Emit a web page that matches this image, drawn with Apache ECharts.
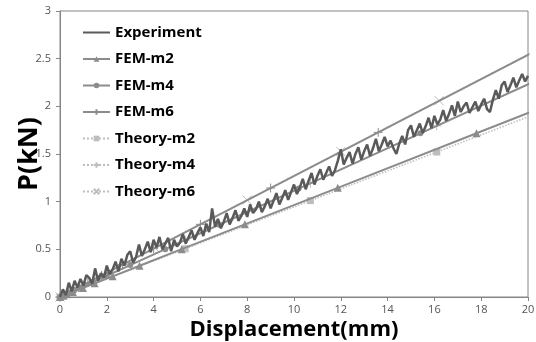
<!DOCTYPE html>
<html>
<head>
<meta charset="utf-8">
<script src="https://cdn.jsdelivr.net/npm/echarts@6/dist/echarts.min.js"></script>
<style>
  html, body { margin: 0; padding: 0; background: #fff; }
  #chart { width: 536px; height: 342px; }
</style>
</head>
<body>
<div id="chart"></div>
<script>
// Experiment: load-displacement record
const expDisp = [
  0, 0.125, 0.25, 0.375, 0.5, 0.625, 0.75, 0.875,
  1, 1.125, 1.25, 1.375, 1.5, 1.625, 1.75, 1.875,
  2, 2.125, 2.25, 2.375, 2.5, 2.625, 2.75, 2.875,
  3, 3.125, 3.25, 3.375, 3.5, 3.625, 3.75, 3.875,
  4, 4.125, 4.25, 4.375, 4.5, 4.625, 4.75, 4.875,
  5, 5.125, 5.25, 5.375, 5.5, 5.625, 5.75, 5.875,
  6, 6.125, 6.25, 6.375, 6.5, 6.625, 6.75, 6.875,
  7, 7.125, 7.25, 7.375, 7.5, 7.625, 7.75, 7.875,
  8, 8.125, 8.25, 8.375, 8.5, 8.625, 8.75, 8.875,
  9, 9.125, 9.25, 9.375, 9.5, 9.625, 9.75, 9.875,
  10, 10.125, 10.25, 10.375, 10.5, 10.625, 10.75, 10.875,
  11, 11.125, 11.25, 11.375, 11.5, 11.625, 11.75, 11.875,
  12, 12.125, 12.25, 12.375, 12.5, 12.625, 12.75, 12.875,
  13, 13.125, 13.25, 13.375, 13.5, 13.625, 13.75, 13.875,
  14, 14.125, 14.25, 14.375, 14.5, 14.625, 14.75, 14.875,
  15, 15.125, 15.25, 15.375, 15.5, 15.625, 15.75, 15.875,
  16, 16.125, 16.25, 16.375, 16.5, 16.625, 16.75, 16.875,
  17, 17.125, 17.25, 17.375, 17.5, 17.625, 17.75, 17.875,
  18, 18.125, 18.25, 18.375, 18.5, 18.625, 18.75, 18.875,
  19, 19.125, 19.25, 19.375, 19.5, 19.625, 19.75, 19.875,
  20
];
const expLoad = [
  0, 0.08, 0.02, 0.15, 0.06, 0.17, 0.1, 0.19,
  0.12, 0.23, 0.2, 0.14, 0.3, 0.17, 0.25, 0.2,
  0.33, 0.24, 0.29, 0.37, 0.27, 0.4, 0.33, 0.44,
  0.48, 0.36, 0.42, 0.55, 0.43, 0.5, 0.58, 0.47,
  0.6, 0.52, 0.63, 0.5, 0.56, 0.62, 0.48, 0.6,
  0.53, 0.57, 0.66, 0.56, 0.63, 0.7, 0.6, 0.67,
  0.73, 0.64, 0.77, 0.68, 0.93, 0.74, 0.82, 0.72,
  0.79, 0.88, 0.76, 0.83, 0.91, 0.8, 0.85, 0.93,
  0.84, 0.97, 0.88, 0.92, 1.0, 0.89, 0.95, 1.03,
  0.93, 1.01, 1.09, 0.97, 1.04, 1.12, 1.02, 1.1,
  1.18, 1.08, 1.15, 1.24, 1.13, 1.22, 1.3, 1.18,
  1.27, 1.34, 1.23, 1.3, 1.37, 1.27, 1.33, 1.43,
  1.55, 1.39, 1.46, 1.52, 1.4, 1.5, 1.57, 1.44,
  1.53, 1.6, 1.48, 1.56, 1.66, 1.53, 1.6, 1.68,
  1.58, 1.64, 1.56, 1.5, 1.61, 1.69, 1.6, 1.75,
  1.8, 1.68, 1.75, 1.82, 1.72, 1.79, 1.88, 1.77,
  1.9, 1.81, 1.86, 1.96, 1.85, 1.92, 2.01, 1.9,
  2.05, 1.94, 2.0, 2.04, 1.93, 1.99, 2.05, 1.95,
  2.02, 2.08, 1.97, 1.94, 2.07, 2.17, 2.08, 2.22,
  2.26, 2.15, 2.22, 2.3, 2.2, 2.27, 2.34, 2.26,
  2.32
];

// FEM results (points past 20 mm are clipped by the axis)
const femM2Disp = [0, 0.15, 0.3, 0.55, 0.98, 1.48, 2.25, 3.4, 5.2, 7.9, 11.87, 17.8, 26.7];
const femM2Load = [0, 0.014, 0.029, 0.053, 0.095, 0.143, 0.217, 0.328, 0.502, 0.762, 1.145, 1.718, 2.577];
const femM4Disp = [0, 0.4, 0.59, 0.89, 1.33, 2.0, 3.0, 4.5, 6.8, 10.2, 15.4, 23.1];
const femM4Load = [0, 0.045, 0.066, 0.099, 0.148, 0.223, 0.335, 0.502, 0.758, 1.137, 1.717, 2.576];
const femM6Disp = [0, 0.35, 0.53, 0.79, 1.19, 1.78, 2.67, 4.0, 6.0, 9.0, 13.6, 20.4];
const femM6Load = [0, 0.044, 0.067, 0.1, 0.151, 0.226, 0.339, 0.508, 0.762, 1.143, 1.727, 2.591];

// Theory curves
const thM2Disp = [0, 5.35, 10.7, 16.1, 21.4];
const thM2Load = [0, 0.506, 1.011, 1.521, 2.022];
const thM4Disp = [0, 5.35, 10.7, 16.1, 21.4];
const thM4Load = [0, 0.597, 1.193, 1.795, 2.386];
const thM6Disp = [0, 4.05, 8.0, 12.0, 16.2, 21.0];
const thM6Load = [0, 0.515, 1.017, 1.526, 2.06, 2.67];

const pair = (xs, ys) => xs.map((x, i) => [x, ys[i]]);

const plusPath = "path://M0,5L10,5M5,0L5,10";
const crossPath = "path://M0,0L10,10M10,0L0,10";
const femColor = "#8c8c8c";
const theoryColor = "#bdbdbd";

const femSeries = (name, data, symbol, size, extra = {}) => ({
  name, type: "line", data, symbol, symbolSize: size, z: 3,
  lineStyle: { color: femColor, width: 2 },
  itemStyle: { color: femColor, ...extra },
});
const theorySeries = (name, data, symbol, size, extra = {}) => ({
  name, type: "line", data, symbol, symbolSize: size, z: 2,
  lineStyle: { color: theoryColor, width: 1.5, type: "dotted" },
  itemStyle: { color: theoryColor, ...extra },
});

const chart = echarts.init(document.getElementById("chart"), null, { renderer: "canvas" });
chart.setOption({
  animation: false,
  backgroundColor: "#fff",
  grid: {
    left: 60, right: 8, top: 11, bottom: 45,
    outerBoundsMode: "none", containLabel: false,
    show: true, borderColor: "#868686", borderWidth: 1,
  },
  legend: {
    orient: "vertical", left: 77, top: 20,
    itemWidth: 27, itemHeight: 7, itemGap: 11.5,
    textStyle: { fontFamily: "Open Sans", fontWeight: "bold", fontSize: 15, color: "#000", lineHeight: 14 },
    data: [
      { name: "Experiment", itemStyle: { opacity: 0 } },
      "FEM-m2", "FEM-m4", "FEM-m6", "Theory-m2", "Theory-m4", "Theory-m6",
    ],
  },
  xAxis: {
    type: "value", min: 0, max: 20, interval: 2,
    name: "Displacement(mm)", nameLocation: "middle", nameGap: 22, nameMoveOverlap: false,
    nameTextStyle: { fontFamily: "Open Sans", fontWeight: "bold", fontSize: 22, color: "#000" },
    axisLine: { lineStyle: { color: "#868686" } },
    axisTick: { show: true, length: 4, lineStyle: { color: "#868686" } },
    axisLabel: { fontFamily: "Open Sans", fontSize: 11, color: "#555", margin: 7 },
    splitLine: { show: false },
  },
  yAxis: {
    type: "value", min: 0, max: 3, interval: 0.5,
    name: "P(kN)", nameLocation: "middle", nameGap: 17, nameRotate: 90, nameMoveOverlap: false,
    nameTextStyle: { fontFamily: "Open Sans", fontWeight: "bold", fontSize: 27, color: "#000" },
    axisLine: { show: true, lineStyle: { color: "#868686" } },
    axisTick: { show: true, length: 4, lineStyle: { color: "#868686" } },
    axisLabel: { fontFamily: "Open Sans", fontSize: 11, color: "#555", margin: 9 },
    splitLine: { show: false },
  },
  series: [
    {
      name: "Experiment", type: "line", data: pair(expDisp, expLoad), symbol: "none", z: 4,
      lineStyle: { color: "#5a5a5a", width: 2.5 }, itemStyle: { color: "#5a5a5a" },
    },
    femSeries("FEM-m2", pair(femM2Disp, femM2Load), "triangle", 8),
    femSeries("FEM-m4", pair(femM4Disp, femM4Load), "circle", 6),
    femSeries("FEM-m6", pair(femM6Disp, femM6Load), plusPath, 9, { borderColor: femColor, borderWidth: 1 }),
    theorySeries("Theory-m2", pair(thM2Disp, thM2Load), "rect", 7),
    theorySeries("Theory-m4", pair(thM4Disp, thM4Load), plusPath, 9, { borderColor: theoryColor, borderWidth: 1 }),
    theorySeries("Theory-m6", pair(thM6Disp, thM6Load), crossPath, 9, { borderColor: theoryColor, borderWidth: 1 }),
  ],
});
</script>
</body>
</html>
